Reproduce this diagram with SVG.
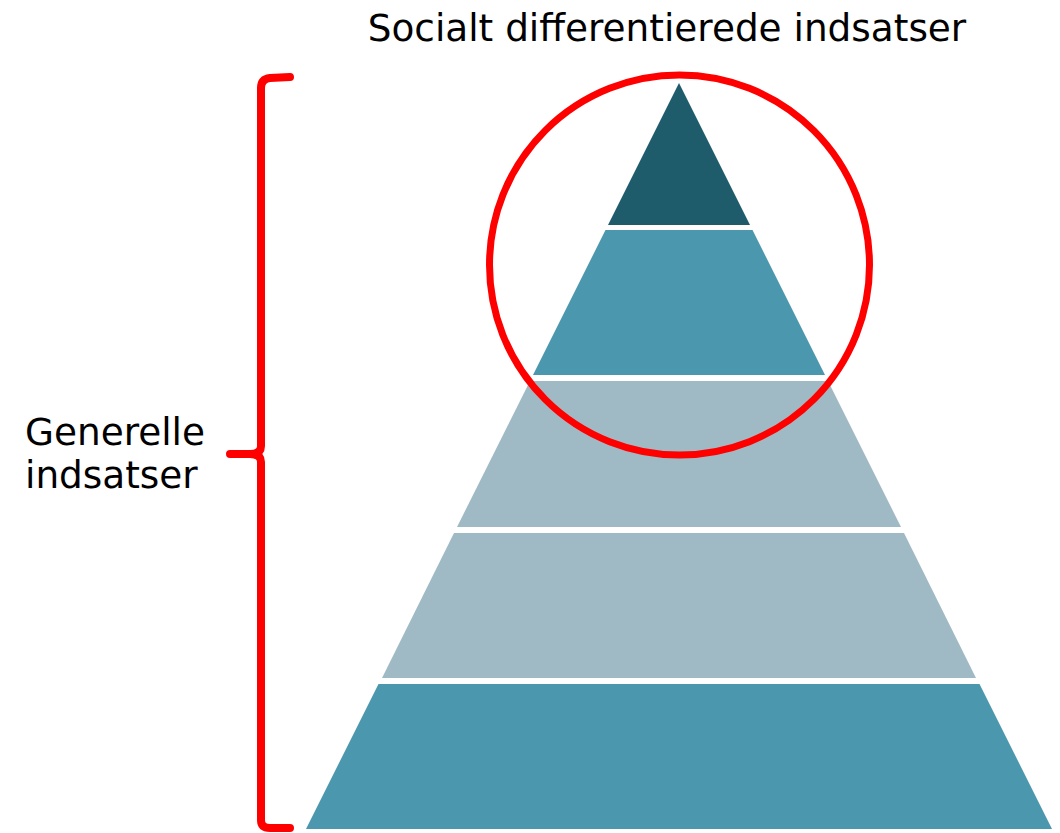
<svg xmlns="http://www.w3.org/2000/svg" width="1060" height="833" viewBox="0 0 1060 833">
<style>
.t{font-family:"DejaVu Sans","Verdana",sans-serif;font-size:37.4px;fill:#000}
.dark{fill:#1F5C6B}
.mid{fill:#4A97AE}
.light{fill:#A0BAC5}
.red{fill:none;stroke:#FF0000;stroke-width:7}
.brace{fill:none;stroke:#FF0000;stroke-width:8;stroke-linecap:round;stroke-linejoin:round}
</style>
<rect width="1060" height="833" fill="#fff"/>
<g id="layer1"><polygon class="dark" points="679,83 750,225 608,225"/></g>
<g id="layer2"><polygon class="mid" points="605.5,230 752.5,230 825,375 533,375"/></g>
<g id="layer3"><polygon class="light" points="530,381 828,381 901,527 457,527"/></g>
<g id="layer4"><polygon class="light" points="454,533 904,533 976,678 382,678"/></g>
<g id="layer5"><polygon class="mid" points="378.5,684 979.5,684 1052,829 306,829"/></g>
<g id="circle"><circle class="red" cx="679.5" cy="265" r="190"/></g>
<g id="brace"><path class="brace" d="M290,77 L270,78 Q261,79 261,88 L261,446 Q261,454 250,454 L230,454 L250,454 Q261,454 261,462 L261,820 Q261,828 270,828 L290,828"/></g>
<g id="labels">
<text class="t" x="667" y="41" text-anchor="middle">Socialt differentierede indsatser</text>
<text class="t" x="25" y="445">Generelle</text>
<text class="t" x="25" y="488">indsatser</text>
</g>
</svg>
